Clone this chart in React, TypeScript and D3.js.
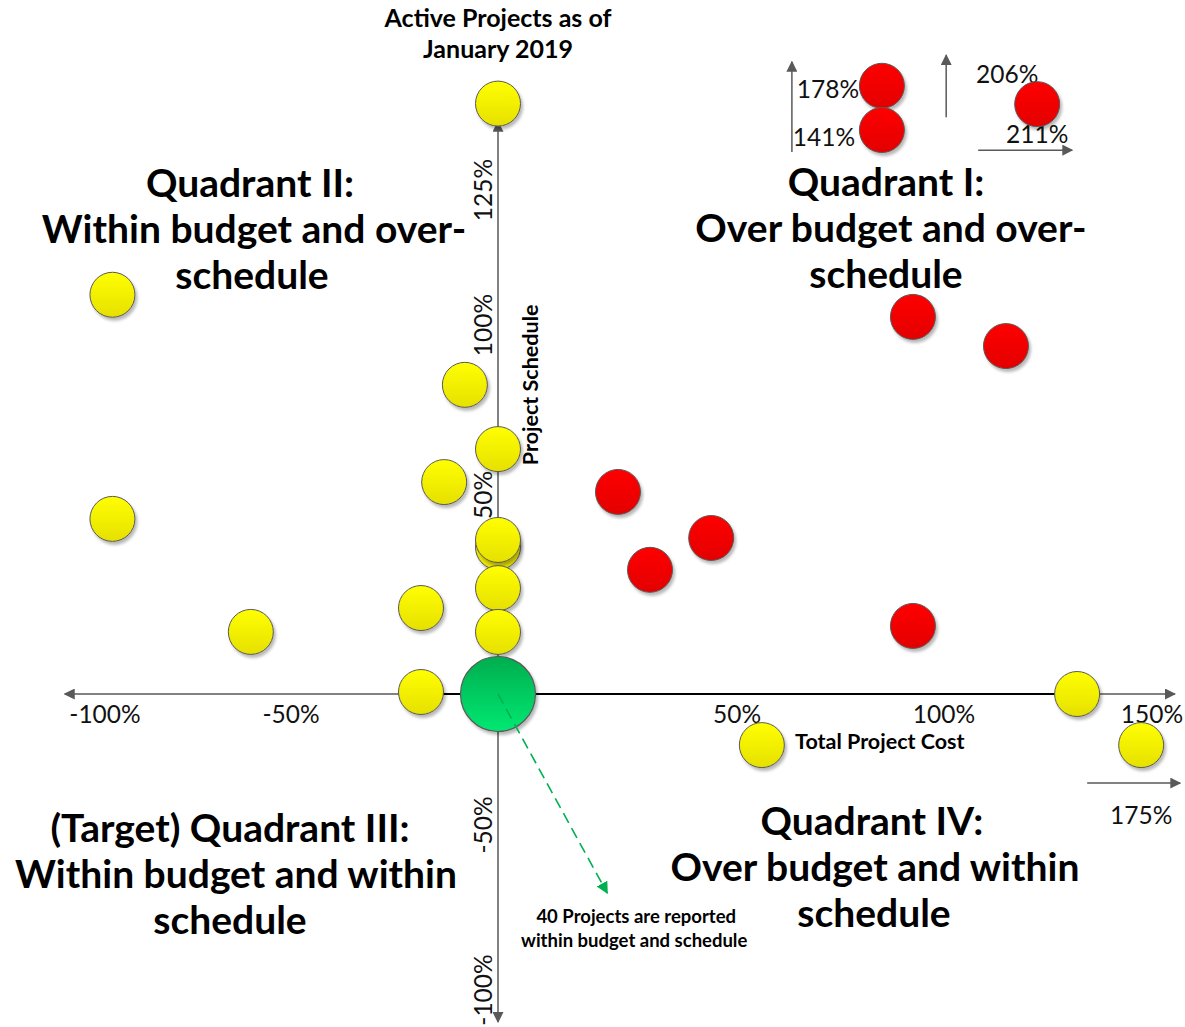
import React from "react";
import * as d3 from "d3";

const W = 1185;
const H = 1027;

// Axis reference values (tick positions along each axis, in %)
const xRefValues = [-100, -50, 0, 50, 100, 150];
const yRefValues = [-100, -50, 0, 50, 100, 125];
const xTickLabels = [-100, -50, 50, 100, 150];
const yTickLabels = [-100, -50, 50, 100, 125];
const xAxisExtent = [-110.8, 155.5];
const yAxisExtent = [-109.7, 137.6];

// Yellow projects (cost %, schedule %)
const yellowCost = [0, -98, -8, 0, -13, -98, 0, 0, 0, 0, -18.6, -60.8, -18.6, 132, 56, 147.4];
const yellowSchedule = [141, 105.6, 82.4, 63.5, 53.8, 44, 36.9, 38.7, 26.6, 15.6, 21.6, 15.6, 0.5, 0, -19.5, -19.5];

// Red projects (cost %, schedule %)
const redCost = [85, 85, 122.4, 92.5, 114.9, 25.1, 44.6, 31.8, 92.5];
const redSchedule = [144.3, 136.1, 140.9, 101.5, 93.8, 50.9, 39.2, 31.2, 17.1];

// Off-scale actual values
const redActualSchedule = ["178%", "141%", "206%"];
const redActualCost = ["211%"];
const yellowActualCost = ["175%"];

// Projects reported within budget and schedule
const onTargetCount = 40;

const xs = d3.scaleLinear().domain(xRefValues).range([105, 291, 498, 737, 944, 1152]);
const ys = d3.scaleLinear().domain(yRefValues).range([990, 825, 694, 495, 325, 190]);

const R = 22.5;
const RG = 37.5;
const FONT = "Lato, 'Open Sans', sans-serif";
const AXIS = "#595959";
const TICK_FS = 24.5;

export default function App() {
  const x0 = xs(0);
  const y0 = ys(0);
  const yellowPts = yellowCost.map((c, i) => ({ x: xs(c), y: ys(yellowSchedule[i]) }));
  const redPts = redCost.map((c, i) => ({ x: xs(c), y: ys(redSchedule[i]) }));

  const r0 = redPts[0], r1 = redPts[1], r2 = redPts[2];
  const yOut = yellowPts[15];

  const noteX = xs(28.5);
  const noteY = ys(-78.2);
  const arrowTip = { x: noteX - 27, y: noteY - 25 };

  const quad = (lines: string[], cx: number[], baseY: number, key: string) => (
    <g key={key}>
      {lines.map((t, i) => (
        <text key={i} x={cx[i]} y={baseY + i * 46} textAnchor="middle" fontFamily={FONT}
          fontWeight={700} fontSize={39} fill="#000">{t}</text>
      ))}
    </g>
  );

  return (
    <svg width={W} height={H} viewBox={`0 0 ${W} ${H}`}
      style={{ position: "absolute", left: 0, top: 0, background: "#fff" }}>
      <defs>
        <linearGradient id="gY" x1="0" y1="0" x2="0" y2="1">
          <stop offset="0" stopColor="#ffff00" />
          <stop offset="1" stopColor="#e6e000" />
        </linearGradient>
        <linearGradient id="gR" x1="0" y1="0" x2="0" y2="1">
          <stop offset="0" stopColor="#ff0000" />
          <stop offset="1" stopColor="#e30000" />
        </linearGradient>
        <linearGradient id="gG" x1="0" y1="0" x2="0" y2="1">
          <stop offset="0" stopColor="#00ad4e" />
          <stop offset="1" stopColor="#00e872" />
        </linearGradient>
        <filter id="sh" x="-30%" y="-30%" width="170%" height="170%">
          <feDropShadow dx="2" dy="3" stdDeviation="1.6" floodColor="#000" floodOpacity="0.28" />
        </filter>
        <marker id="aG" viewBox="0 0 10 10" refX="9" refY="5" markerWidth="11" markerHeight="11"
          markerUnits="userSpaceOnUse" orient="auto">
          <path d="M0,0 L10,5 L0,10 z" fill={AXIS} />
        </marker>
        <marker id="aGreen" viewBox="0 0 10 10" refX="9" refY="5" markerWidth="12" markerHeight="12"
          markerUnits="userSpaceOnUse" orient="auto">
          <path d="M0,0 L10,5 L0,10 z" fill="#00b050" />
        </marker>
      </defs>

      {/* Axes */}
      <line x1={xs(0)} y1={y0} x2={xs(xAxisExtent[0])} y2={y0} stroke={AXIS} strokeWidth={1.5} markerEnd="url(#aG)" />
      <line x1={xs(0)} y1={y0} x2={xs(xAxisExtent[1])} y2={y0} stroke={AXIS} strokeWidth={1.5} markerEnd="url(#aG)" />
      <line x1={x0} y1={ys(0)} x2={x0} y2={ys(yAxisExtent[1])} stroke={AXIS} strokeWidth={1.5} markerEnd="url(#aG)" />
      <line x1={x0} y1={ys(0)} x2={x0} y2={ys(yAxisExtent[0])} stroke={AXIS} strokeWidth={1.5} markerEnd="url(#aG)" />
      {/* connector */}
      <line x1={yellowPts[12].x} y1={y0} x2={yellowPts[13].x} y2={y0} stroke="#000" strokeWidth={2} />

      {/* tick labels */}
      {xTickLabels.map((v) => (
        <text key={"xt" + v} x={xs(v)} y={y0 + 29} textAnchor="middle" fontFamily={FONT} fontSize={TICK_FS} fill="#111">
          {v}%
        </text>
      ))}
      {yTickLabels.map((v) => (
        <text key={"yt" + v} transform={`translate(${x0 - 6},${ys(v)}) rotate(-90)`} textAnchor="middle"
          fontFamily={FONT} fontSize={TICK_FS} fill="#111">
          {v}%
        </text>
      ))}

      {/* axis titles */}
      <text transform={`translate(${x0 + 40},${ys(82.4)}) rotate(-90)`} textAnchor="middle" fontFamily={FONT}
        fontWeight={700} fontSize={21.5}>Project Schedule</text>
      <text x={xs(84.5)} y={y0 + 55} textAnchor="middle" fontFamily={FONT} fontWeight={700} fontSize={21.5}>
        Total Project Cost
      </text>

      {/* title */}
      <text x={x0} y={27} textAnchor="middle" fontFamily={FONT} fontWeight={700} fontSize={25}>Active Projects as of</text>
      <text x={x0} y={58} textAnchor="middle" fontFamily={FONT} fontWeight={700} fontSize={25}>January 2019</text>

      {/* quadrant labels */}
      {quad(["Quadrant II:", "Within budget and over-", "schedule"], [250, 254, 252], 197, "q2")}
      {quad(["Quadrant I:", "Over budget and over-", "schedule"], [886, 891, 886], 196, "q1")}
      {quad(["(Target) Quadrant III:", "Within budget and within", "schedule"], [230, 236, 230], 842, "q3")}
      {quad(["Quadrant IV:", "Over budget and within", "schedule"], [872, 875, 874], 835, "q4")}

      {/* off-scale annotations */}
      <line x1={r0.x - 90} y1={r1.y + 22} x2={r0.x - 90} y2={r0.y - 24} stroke={AXIS} strokeWidth={1.5} markerEnd="url(#aG)" />
      <text x={r0.x - 54} y={r0.y + 12} textAnchor="middle" fontFamily={FONT} fontSize={TICK_FS} fill="#111">{redActualSchedule[0]}</text>
      <text x={r1.x - 58} y={r1.y + 16} textAnchor="middle" fontFamily={FONT} fontSize={TICK_FS} fill="#111">{redActualSchedule[1]}</text>
      <line x1={r2.x - 91} y1={r2.y + 13} x2={r2.x - 91} y2={r2.y - 49} stroke={AXIS} strokeWidth={1.5} markerEnd="url(#aG)" />
      <text x={r2.x - 30} y={r2.y - 21} textAnchor="middle" fontFamily={FONT} fontSize={TICK_FS} fill="#111">{redActualSchedule[2]}</text>
      <line x1={r2.x - 59} y1={r2.y + 46} x2={r2.x + 35} y2={r2.y + 46} stroke={AXIS} strokeWidth={1.5} markerEnd="url(#aG)" />
      <text x={r2.x} y={r2.y + 39} textAnchor="middle" fontFamily={FONT} fontSize={TICK_FS} fill="#111">{redActualCost[0]}</text>
      <line x1={yOut.x - 54} y1={yOut.y + 38} x2={yOut.x + 39} y2={yOut.y + 38} stroke={AXIS} strokeWidth={1.5} markerEnd="url(#aG)" />
      <text x={yOut.x} y={yOut.y + 79} textAnchor="middle" fontFamily={FONT} fontSize={TICK_FS} fill="#111">{yellowActualCost[0]}</text>

      {/* points */}
      {yellowPts.map((p, i) => (
        <circle key={"y" + i} cx={p.x} cy={p.y} r={R} fill="url(#gY)" stroke="#595959" strokeWidth={1} filter="url(#sh)" />
      ))}
      {redPts.map((p, i) => (
        <circle key={"r" + i} cx={p.x} cy={p.y} r={R} fill="url(#gR)" stroke="#595959" strokeWidth={1} filter="url(#sh)" />
      ))}
      <circle cx={x0} cy={y0} r={RG} fill="url(#gG)" stroke="#595959" strokeWidth={1.2} filter="url(#sh)" />

      {/* note arrow */}
      <line x1={x0} y1={y0} x2={arrowTip.x} y2={arrowTip.y} stroke="#00b050" strokeWidth={1.6}
        strokeDasharray="11 6" markerEnd="url(#aGreen)" />
      <text x={noteX + 2} y={noteY + 5} textAnchor="middle" fontFamily={FONT} fontWeight={700} fontSize={18.5}>
        {onTargetCount} Projects are reported
      </text>
      <text x={noteX} y={noteY + 29} textAnchor="middle" fontFamily={FONT} fontWeight={700} fontSize={18.5}>
        within budget and schedule
      </text>
    </svg>
  );
}
